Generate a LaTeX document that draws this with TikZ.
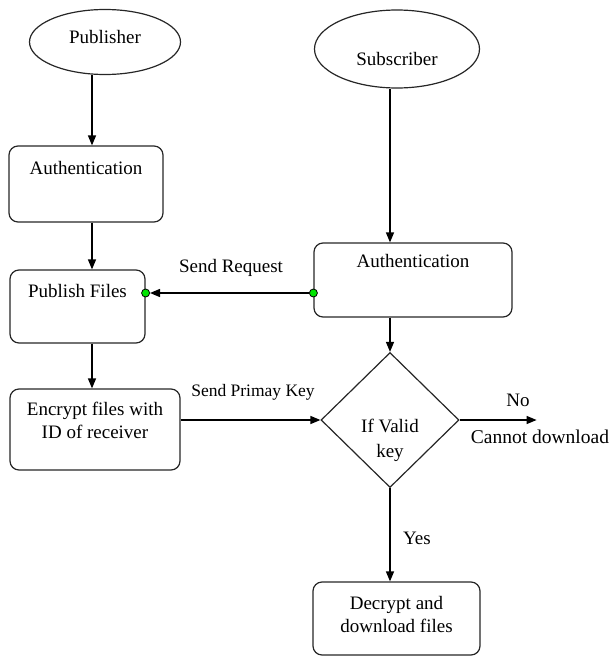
\documentclass[tikz,border=0pt]{standalone}
\usepackage{fontspec}
\setmainfont{Liberation Serif}
\usetikzlibrary{shapes.geometric,arrows.meta,calc}
\newcommand{\bxt}[4]{\parbox[c][#2pt][t]{#1pt}{\centering\vspace*{#3pt}#4\par}}
\begin{document}
\begin{tikzpicture}[x=1pt,y=-1pt,
  every node/.style={font=\fontsize{19}{23}\selectfont},
  rbox/.style={draw=black!85, line width=1.2pt, rounded corners=9pt, inner sep=0pt},
  oval/.style={draw=black!85, line width=1.2pt, ellipse, inner sep=0pt},
  dec/.style={draw=black!85, line width=1.2pt, diamond, inner sep=0pt},
  arr/.style={line width=1.3pt, -{Triangle[length=10pt,width=8pt]}},
  dot/.style={circle, fill=green!90!black, draw=black, line width=0.8pt, minimum size=8pt, inner sep=0pt},
  lbl/.style={inner sep=0pt}]
\useasboundingbox (0,0) rectangle (614,656);
% shapes
\node[oval, minimum width=151pt, minimum height=65pt] (pub) at (105,42)
  {\raisebox{-1pt}[0pt][0pt]{Publisher}};
\node[oval, minimum width=165pt, minimum height=78pt] (sub) at (397,49)
  {\raisebox{-16.5pt}[0pt][0pt]{Subscriber}};
\node[rbox] (a1) at (86,184) {\bxt{154}{76}{15.5}{Authentication}};
\node[rbox] (a2) at (413,280) {\bxt{198}{74}{11.5}{Authentication}};
\node[rbox] (pf) at (77.5,306.5) {\bxt{135}{73}{14.5}{Publish Files}};
\node[rbox] (enc) at (95,429.5) {\bxt{170}{81}{13.5}{Encrypt files with\\ID of receiver}};
\node[rbox] (dec) at (396.5,618.5) {\bxt{167}{73}{14.5}{Decrypt and\\download files}};
\node[dec, minimum width=138pt, minimum height=135pt] (dia) at (390,420)
  {\raisebox{-24.5pt}[0pt][0pt]{\fontsize{19}{25}\selectfont\begin{tabular}{@{}c@{}}If Valid\\key\end{tabular}}};
% dots
\node[dot] (g1) at ([yshift=-13pt]a2.west) {};
\node[dot] (g2) at ([yshift=13.5pt]pf.east) {};
\coordinate (noend) at ([xshift=77pt]dia.east);
% connectors
\draw[arr] ([xshift=-13pt]pub.south) -- ([xshift=6pt]a1.north);
\draw[arr] ([xshift=6pt]a1.south) -- ([xshift=14.5pt]pf.north);
\draw[arr] ([xshift=14.5pt]pf.south) -- ([xshift=-3pt]enc.north);
\draw[arr] ([xshift=-7pt]sub.south) -- ([xshift=-23pt]a2.north);
\draw[arr] ([xshift=-23pt]a2.south) -- (dia.north);
\draw[arr] (g1) -- (g2);
\draw[arr] (dia.west -| enc.east) -- (dia.west);
\draw[arr] (dia.east) -- (noend);
\draw[arr] (dia.south) -- (dia.south |- dec.north);
% labels
\node[lbl] (sr) at (231,268) {Send Request};
\node[lbl, font=\fontsize{17.5}{22}\selectfont] (spk) at (253,392) {Send Primay Key};
\node[lbl] (no) at (518,400) {No};
\node[lbl, font=\fontsize{19.5}{23}\selectfont] (cd) at (540,437) {Cannot download};
\node[lbl] (yes) at (417,538) {Yes};
\end{tikzpicture}
\end{document}
